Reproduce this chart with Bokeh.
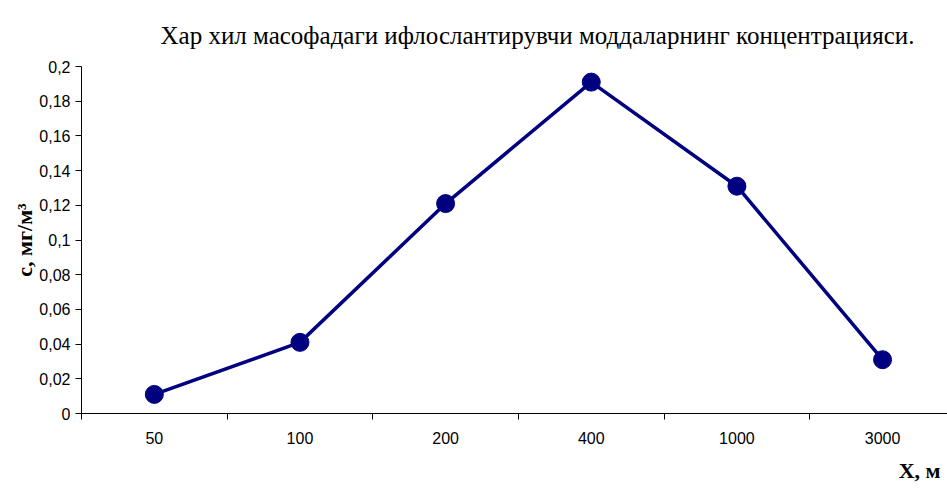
from bokeh.plotting import figure
from bokeh.models import Range1d, FixedTicker, Title, ColumnDataSource
from bokeh.embed import file_html
from bokeh.resources import INLINE

# ---- data ----
categories = ["50", "100", "200", "400", "1000", "3000"]
concentration = [0.011, 0.041, 0.121, 0.191, 0.131, 0.031]
y_ticks = [0.0, 0.02, 0.04, 0.06, 0.08, 0.10, 0.12, 0.14, 0.16, 0.18, 0.20]
y_tick_labels = ["0", "0,02", "0,04", "0,06", "0,08", "0,1", "0,12", "0,14", "0,16", "0,18", "0,2"]
title_text = "Хар хил масофадаги ифлослантирувчи моддаларнинг концентрацияси."
y_label_text = "c, мг/м³"
x_label_text = "X, м"

centers = [i + 0.5 for i in range(len(categories))]
boundaries = list(range(len(categories)))

W, H = 947, 495
p = figure(width=W, height=H, output_backend="svg", toolbar_location=None,
           x_range=Range1d(0, 5.946), y_range=Range1d(0, 0.2),
           min_border_left=81, min_border_right=0, min_border_top=66,
           min_border_bottom=82)
p.outline_line_color = None
p.grid.visible = False
p.background_fill_color = "white"
p.border_fill_color = "white"

# title
p.title.text = title_text
p.title.text_font = "Liberation Serif"
p.title.text_font_style = "normal"
p.title.text_font_size = "25px"
p.title.text_color = "black"
p.title.align = "left"
p.title.offset = 79
p.title.standoff = 36

src = ColumnDataSource(dict(x=centers, y=concentration))
p.line("x", "y", source=src, line_color="#000080", line_width=3.5)
p.scatter("x", "y", source=src, size=18, fill_color="#000080", line_color="#000080")

xa = p.xaxis[0]
xa.ticker = FixedTicker(ticks=centers, minor_ticks=boundaries)
xa.major_label_overrides = {c: lab for c, lab in zip(centers, categories)}
xa.major_tick_out = 0
xa.major_tick_in = 0
xa.minor_tick_out = 6
xa.minor_tick_in = 0
xa.minor_tick_line_color = "black"
xa.axis_line_color = "black"
xa.major_label_text_font = "Liberation Sans"
xa.major_label_text_font_size = "16px"
xa.major_label_text_color = "black"
xa.major_label_standoff = 12

xt = Title(text=x_label_text, align="right", offset=7, standoff=22,
           vertical_align="top",
           text_font="Liberation Serif", text_font_style="bold",
           text_font_size="22px", text_color="black")
p.add_layout(xt, "below")

ya = p.yaxis[0]
ya.ticker = FixedTicker(ticks=y_ticks)
ya.major_label_overrides = {t: lab for t, lab in zip(y_ticks, y_tick_labels)}
ya.major_tick_out = 6
ya.major_tick_in = 0
ya.minor_tick_out = 0
ya.minor_tick_in = 0
ya.axis_line_color = "black"
ya.major_tick_line_color = "black"
ya.major_label_text_font = "Liberation Sans"
ya.major_label_text_font_size = "16px"
ya.major_label_text_color = "black"
ya.major_label_standoff = 5
ya.axis_label = y_label_text
ya.axis_label_text_font = "Liberation Serif"
ya.axis_label_text_font_style = "bold"
ya.axis_label_text_font_size = "22px"
ya.axis_label_text_color = "black"
ya.axis_label_standoff = -1

open("out.html", "w").write(file_html(p, INLINE))
